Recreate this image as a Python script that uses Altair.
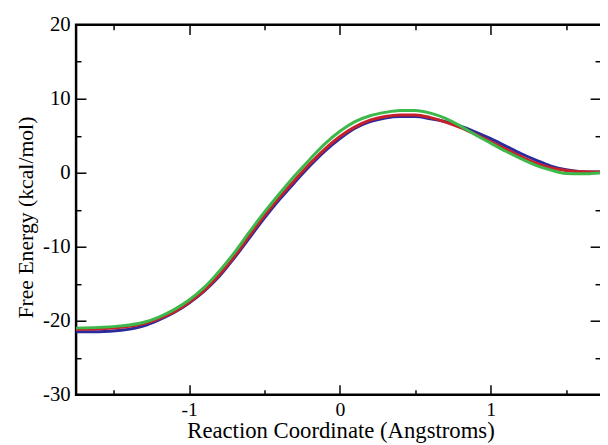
import altair as alt
import pandas as pd

# ---- data ----
x_coord = [-1.75, -1.6, -1.45, -1.3, -1.2, -1.1, -1.0, -0.9, -0.8, -0.7, -0.6,
           -0.5, -0.4, -0.3, -0.2, -0.1, 0.0, 0.1, 0.2, 0.3, 0.4, 0.5, 0.6,
           0.7, 0.8, 0.9, 1.0, 1.1, 1.2, 1.3, 1.4, 1.5, 1.6, 1.75]

y_blue = [-21.5, -21.5, -21.3, -20.7, -19.9, -18.9, -17.6, -16.0, -14.0, -11.5, -8.8,
          -6.1, -3.6, -1.3, 0.9, 2.9, 4.6, 6.0, 6.9, 7.4, 7.6, 7.6, 7.3,
          6.9, 6.3, 5.5, 4.6, 3.6, 2.6, 1.7, 0.9, 0.4, 0.15, 0.1]

y_red = [-21.2, -21.1, -20.9, -20.4, -19.7, -18.8, -17.5, -15.9, -13.8, -11.3, -8.5,
         -5.8, -3.3, -1.0, 1.2, 3.2, 4.9, 6.2, 7.1, 7.6, 7.8, 7.8, 7.45,
         6.85, 6.1, 5.2, 4.2, 3.2, 2.2, 1.3, 0.65, 0.3, 0.15, 0.1]

y_green = [-21.0, -20.9, -20.7, -20.2, -19.5, -18.5, -17.2, -15.5, -13.3, -10.8, -8.0,
           -5.3, -2.8, -0.4, 1.8, 3.9, 5.6, 6.9, 7.7, 8.15, 8.4, 8.4, 8.05,
           7.35, 6.3, 5.1, 4.0, 2.9, 1.9, 1.0, 0.35, -0.1, -0.15, 0.0]

series_names = ["run 1", "run 2", "run 3"]
series_colors = ["#2b2b9c", "#c8202a", "#3db84a"]

x_major = [-1, 0, 1]
x_minor = [-1.5, -0.5, 0.5, 1.5]
y_major = [-30, -20, -10, 0, 10, 20]
y_minor = [-25, -15, -5, 5, 15]

x_title = "Reaction Coordinate (Angstroms)"
y_title = "Free Energy (kcal/mol)"

# full axis range of the figure; the window cuts the plot just before its right edge
X_FULL = [-1.75, 1.75]
X_DOMAIN = [-1.75, 1.725]
Y_DOMAIN = [-30, 20]
FONT = "Liberation Serif"
FRAME_W = 2.5

rows = []
for name, ys in zip(series_names, [y_blue, y_red, y_green]):
    for xv, yv in zip(x_coord, ys):
        rows.append({"x": xv, "y": yv, "series": name})
df = pd.DataFrame(rows)

frame_df = pd.DataFrame({"fx": [X_FULL[0]], "fx2": [X_FULL[1]],
                         "fy": [Y_DOMAIN[0]], "fy2": [Y_DOMAIN[1]]})

x_scale = alt.Scale(domain=X_DOMAIN, nice=False, zero=False)
y_scale = alt.Scale(domain=Y_DOMAIN, nice=False, zero=False)


def xenc(axis):
    return alt.X("x:Q", scale=x_scale, axis=axis)


def yenc(axis):
    return alt.Y("y:Q", scale=y_scale, axis=axis)


label_x_axis = alt.Axis(
    orient="bottom", values=x_major, labelExpr="'' + datum.value",
    ticks=False, tickSize=0, domain=False, grid=False,
    labelFont=FONT, labelFontSize=20, labelColor="black", labelPadding=5,
    labelFlush=False, labelOverlap=False,
    title=x_title, titleFont=FONT, titleFontSize=23, titleFontWeight="normal",
    titleColor="black", titleX=268, titleY=43, titleBaseline="alphabetic",
    titleAlign="center",
)
label_y_axis = alt.Axis(
    orient="left", values=y_major, labelExpr="'' + datum.value",
    ticks=False, tickSize=0, domain=False, grid=False,
    labelFont=FONT, labelFontSize=21, labelColor="black", labelPadding=6,
    labelFlush=False, labelOverlap=False,
    title=y_title, titleFont=FONT, titleFontSize=22, titleFontWeight="normal",
    titleColor="black", titleX=-44, titleY=195, titleBaseline="alphabetic",
    titleAlign="center", titleAngle=270,
)


def tick_axis(orient, values, size):
    return alt.Axis(
        orient=orient, values=values, ticks=True, tickSize=size, offset=-size,
        tickColor="black", tickWidth=1.5, labels=False, domain=False,
        grid=False, title=None,
    )


# plot frame, positioned through the scales from the axis range
frame = (
    alt.Chart(frame_df)
    .mark_rect(fillOpacity=0, stroke="black", strokeWidth=FRAME_W, strokeOpacity=1)
    .encode(
        x=alt.X("fx:Q", scale=x_scale, axis=label_x_axis),
        x2=alt.X2("fx2"),
        y=alt.Y("fy:Q", scale=y_scale, axis=label_y_axis),
        y2=alt.Y2("fy2"),
    )
)

layers = [frame]
for name, col in zip(series_names, series_colors):
    layer = (
        alt.Chart(df)
        .transform_filter(alt.datum.series == name)
        .mark_line(color=col, strokeWidth=3, interpolate="monotone")
        .encode(x=xenc(None), y=yenc(None))
    )
    layers.append(layer)

tick_specs = [
    (("bottom", x_major, 10), ("left", y_major, 10)),
    (("bottom", x_minor, 5), ("left", y_minor, 5)),
    (("top", x_major, 10), ("right", y_major, 10)),
    (("top", x_minor, 5), ("right", y_minor, 5)),
]
for (xo, xv, xs), (yo, yv, ys) in tick_specs:
    layers.append(
        alt.Chart(df)
        .mark_line(strokeOpacity=0)
        .encode(x=xenc(tick_axis(xo, xv, xs)), y=yenc(tick_axis(yo, yv, ys)))
    )

chart = (
    alt.layer(*layers)
    .resolve_axis(x="independent", y="independent")
    .properties(
        width=531,
        height=375,
        padding={"left": 69, "top": 14, "right": 0, "bottom": 47},
        autosize=alt.AutoSizeParams(type="none"),
        background="white",
    )
    .configure_view(stroke=None)
)

chart.save("out.html", embed_options={"renderer": "svg", "actions": False})
